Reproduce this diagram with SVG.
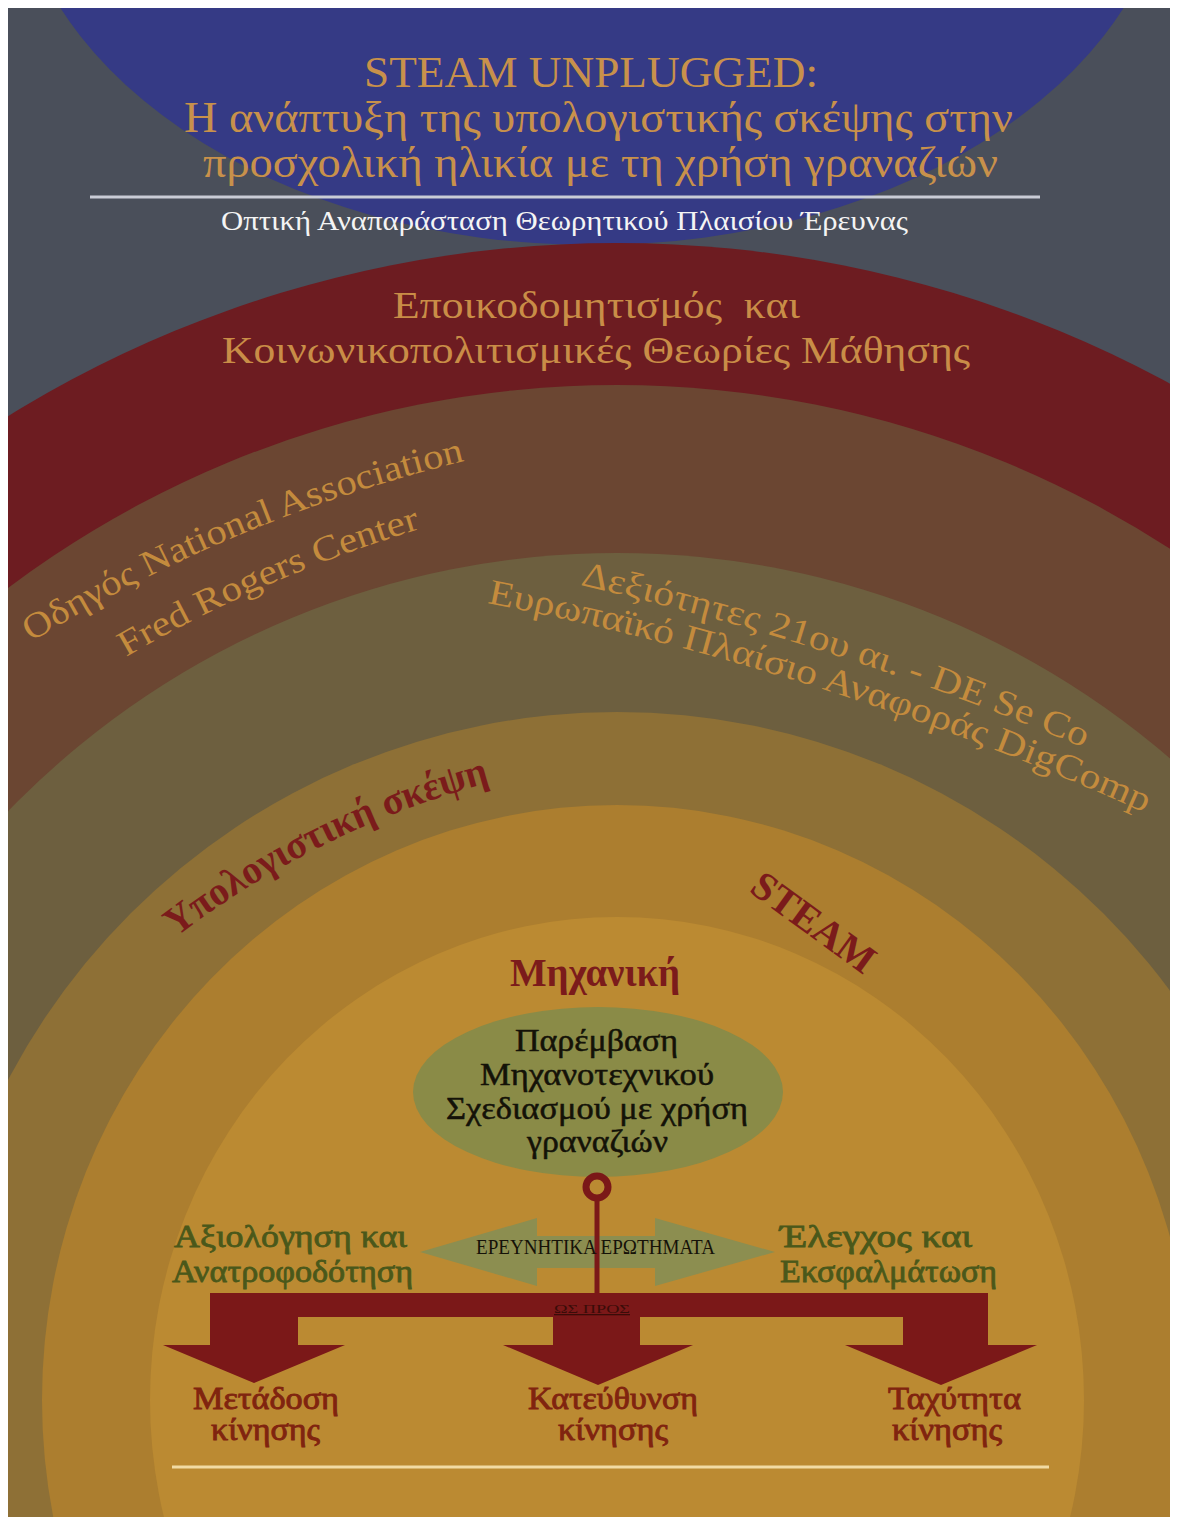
<svg xmlns="http://www.w3.org/2000/svg" width="1177" height="1517" viewBox="0 0 1177 1517">
<defs>
<clipPath id="frame"><rect x="8" y="8" width="1162" height="1509"/></clipPath>
<path id="arcOd" d="M31,642 A1500,1500 0 0,1 495,454"/>
<path id="arcFr" d="M126,657 A1400,1400 0 0,1 450,520"/>
<path id="arcDe" d="M580,585 A3000,3000 0 0,1 1105,757"/>
<path id="arcEu" d="M487,603 A3000,3000 0 0,1 1165,822"/>
<path id="arcYp" d="M176,937 A900,900 0 0,1 515,776"/>
<style>
text{font-family:"Liberation Serif","DejaVu Serif",serif}
.title{fill:#c8914b;font-size:44px}
.sub{fill:#f4f4f4;font-size:27px}
.ring-t{fill:#c98d47;font-size:37px}
.arc-t{fill:#c48b3d;font-size:36px}
.red-b{fill:#7b1b1b;font-weight:bold;font-size:40px}
.node-t{fill:#141208;font-size:31px;stroke:#141208;stroke-width:0.5px}
.green-t{fill:#4a581a;font-size:32px;stroke:#4a581a;stroke-width:0.8px}
.bot-t{fill:#80240f;font-size:32px;stroke:#80240f;stroke-width:0.9px}
.small{fill:#161208;font-size:20px}
</style>
</defs>
<rect width="1177" height="1517" fill="#ffffff"/>
<g id="background" clip-path="url(#frame)">
<rect x="0" y="0" width="1177" height="1517" fill="#4a4f5a"/>
<ellipse cx="592" cy="-150" rx="580" ry="395" fill="#353a85"/>
<circle cx="617" cy="1400" r="1157" fill="#6d1c21"/>
<circle cx="617" cy="1400" r="1015" fill="#6b4632"/>
<circle cx="617" cy="1400" r="847" fill="#6d5f3f"/>
<circle cx="617" cy="1400" r="688" fill="#8e7036"/>
<ellipse cx="617" cy="1400" rx="575" ry="595" fill="#ac7e2f"/>
<ellipse cx="617" cy="1400" rx="467" ry="483" fill="#bb8a32"/>
</g>
<g id="title">
<text class="title" x="364" y="87" textLength="454" lengthAdjust="spacingAndGlyphs">STEAM UNPLUGGED:</text>
<text class="title" x="184" y="132" textLength="829" lengthAdjust="spacingAndGlyphs">Η ανάπτυξη της υπολογιστικής σκέψης στην</text>
<text class="title" x="203" y="177" textLength="795" lengthAdjust="spacingAndGlyphs">προσχολική ηλικία με τη χρήση γραναζιών</text>
<line x1="90" y1="197" x2="1040" y2="197" stroke="#c9ccd6" stroke-width="3"/>
<text class="sub" x="221" y="230" textLength="687" lengthAdjust="spacingAndGlyphs">Οπτική Αναπαράσταση Θεωρητικού Πλαισίου Έρευνας</text>
</g>
<g id="ring-constructivism">
<text class="ring-t" x="393" y="318" textLength="407" lengthAdjust="spacingAndGlyphs" xml:space="preserve">Εποικοδομητισμός  και</text>
<text class="ring-t" x="222" y="363" textLength="748" lengthAdjust="spacingAndGlyphs">Κοινωνικοπολιτισμικές Θεωρίες Μάθησης</text>
</g>
<g id="ring-naeyc">
<text class="arc-t"><textPath href="#arcOd" textLength="472" lengthAdjust="spacingAndGlyphs">Οδηγός National Association</textPath></text>
<text class="arc-t"><textPath href="#arcFr" textLength="322" lengthAdjust="spacingAndGlyphs">Fred Rogers Center</textPath></text>
</g>
<g id="ring-skills">
<text class="arc-t"><textPath href="#arcDe" textLength="530" lengthAdjust="spacingAndGlyphs">Δεξιότητες 21ου αι. - DE Se Co</textPath></text>
<text class="arc-t"><textPath href="#arcEu" textLength="692" lengthAdjust="spacingAndGlyphs">Ευρωπαϊκό Πλαίσιο Αναφοράς DigComp</textPath></text>
</g>
<g id="ring-ct">
<text class="red-b"><textPath href="#arcYp" textLength="352" lengthAdjust="spacingAndGlyphs">Υπολογιστική σκέψη</textPath></text>
</g>
<g id="ring-steam">
<text class="red-b" transform="translate(748,891) rotate(36)" textLength="143" lengthAdjust="spacingAndGlyphs">STEAM</text>
</g>
<g id="ring-engineering">
<text class="red-b" x="510" y="986" textLength="170" lengthAdjust="spacingAndGlyphs">Μηχανική</text>
</g>
<g id="intervention">
<ellipse cx="598" cy="1092" rx="185" ry="85" fill="#8a8b47"/>
<text class="node-t" x="515" y="1051" textLength="163" lengthAdjust="spacingAndGlyphs">Παρέμβαση</text>
<text class="node-t" x="480" y="1085" textLength="234" lengthAdjust="spacingAndGlyphs">Μηχανοτεχνικού</text>
<text class="node-t" x="446" y="1119" textLength="302" lengthAdjust="spacingAndGlyphs">Σχεδιασμού με χρήση</text>
<text class="node-t" x="527" y="1152" textLength="141" lengthAdjust="spacingAndGlyphs">γραναζιών</text>
</g>
<g id="connectors">
<path d="M420,1252 L537,1218 L537,1236 L655,1236 L655,1218 L775,1252 L655,1286 L655,1268 L537,1268 L537,1286 Z" fill="#8c8e50"/>
<line x1="597" y1="1198" x2="597" y2="1296" stroke="#7b1818" stroke-width="5"/>
<circle cx="597" cy="1187" r="11" fill="#bb8a32" stroke="#7b1818" stroke-width="7"/>
<path d="M210,1293 L988,1293 L988,1345 L1037,1345 L941,1385 L845,1345 L903,1345 L903,1317 L640,1317 L640,1345 L693,1345 L598,1385 L503,1345 L553,1345 L553,1317 L298,1317 L298,1345 L345,1345 L254,1383 L163,1345 L210,1345 Z" fill="#7b1818"/>
<text class="small" x="476" y="1254" textLength="239" lengthAdjust="spacingAndGlyphs">ΕΡΕΥΝΗΤΙΚΑ ΕΡΩΤΗΜΑΤΑ</text>
<text x="554" y="1313" font-size="13" fill="#3a0c08" text-decoration="underline" textLength="76" lengthAdjust="spacingAndGlyphs">ΩΣ ΠΡΟΣ</text>
</g>
<g id="evaluation">
<text class="green-t" x="174" y="1247" textLength="233" lengthAdjust="spacingAndGlyphs">Αξιολόγηση και</text>
<text class="green-t" x="172" y="1282" textLength="241" lengthAdjust="spacingAndGlyphs">Ανατροφοδότηση</text>
</g>
<g id="debugging">
<text class="green-t" x="780" y="1247" textLength="192" lengthAdjust="spacingAndGlyphs">Έλεγχος και</text>
<text class="green-t" x="780" y="1282" textLength="217" lengthAdjust="spacingAndGlyphs">Εκσφαλμάτωση</text>
</g>
<g id="transmission">
<text class="bot-t" x="193" y="1409" textLength="146" lengthAdjust="spacingAndGlyphs">Μετάδοση</text>
<text class="bot-t" x="211" y="1440" textLength="109" lengthAdjust="spacingAndGlyphs">κίνησης</text>
</g>
<g id="direction">
<text class="bot-t" x="528" y="1409" textLength="170" lengthAdjust="spacingAndGlyphs">Κατεύθυνση</text>
<text class="bot-t" x="558" y="1440" textLength="110" lengthAdjust="spacingAndGlyphs">κίνησης</text>
</g>
<g id="speed">
<text class="bot-t" x="888" y="1409" textLength="133" lengthAdjust="spacingAndGlyphs">Ταχύτητα</text>
<text class="bot-t" x="892" y="1440" textLength="110" lengthAdjust="spacingAndGlyphs">κίνησης</text>
</g>
<line x1="172" y1="1467" x2="1049" y2="1467" stroke="#f1dba4" stroke-width="3"/>
</svg>
